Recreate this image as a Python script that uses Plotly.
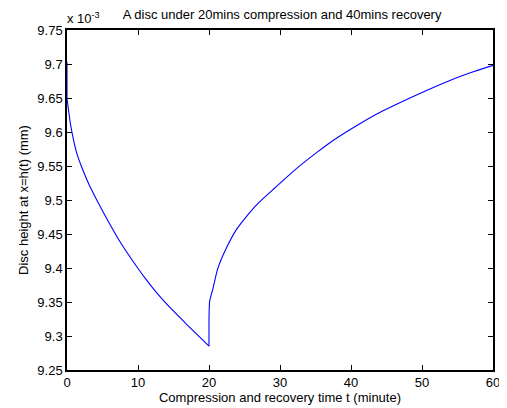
import plotly.graph_objects as go

# Compression phase (time in minutes, height in units of 1e-3 mm)
t_comp = [0, 0, 0.18, 0.5, 0.97, 1.43, 2.12, 3.05, 4.4, 6.0, 7.38, 9.22, 11.08, 12.92,
          14.76, 17.07, 20.0]
h_comp = [9.703, 9.650, 9.635, 9.611, 9.586, 9.567, 9.547, 9.524, 9.496, 9.465, 9.440, 9.411,
          9.384, 9.360, 9.339, 9.315, 9.285]

# Recovery phase
t_rec = [20.0, 20.0, 20.08, 20.3, 20.54, 21.23, 22.38, 23.77, 25.15, 27.0, 29.3, 32.07, 35.2,
         37.84, 41.07, 44.3, 48.92, 53.5, 56.8, 60.0]
h_rec = [9.285, 9.325, 9.350, 9.360, 9.369, 9.399, 9.428, 9.455, 9.474, 9.496, 9.518, 9.544,
         9.570, 9.590, 9.611, 9.630, 9.653, 9.674, 9.687, 9.698]

x_ticks = [0, 10, 20, 30, 40, 50, 60]
y_ticks = [9.25, 9.3, 9.35, 9.4, 9.45, 9.5, 9.55, 9.6, 9.65, 9.7, 9.75]
y_tick_labels = ["9.25", "9.3", "9.35", "9.4", "9.45", "9.5", "9.55", "9.6", "9.65", "9.7", "9.75"]

FONT_FAMILY = "Liberation Sans, Arial, sans-serif"
font = dict(family=FONT_FAMILY, size=13, color="black")
BLUE = "#0000ff"

fig = go.Figure()
# vertical jumps (linear) and smooth curved sections (spline)
for t, h in ((t_comp, h_comp), (t_rec, h_rec)):
    fig.add_trace(go.Scatter(x=t[:2], y=h[:2], mode="lines",
                             line=dict(color=BLUE, width=1.1),
                             showlegend=False, hoverinfo="skip"))
    fig.add_trace(go.Scatter(x=t[1:], y=h[1:], mode="lines",
                             line=dict(color=BLUE, width=1.1, shape="spline", smoothing=0.6),
                             showlegend=False, hoverinfo="skip"))

axis_common = dict(showline=True, linecolor="black", linewidth=1.5, mirror="ticks",
                   ticks="inside", ticklen=5, tickcolor="black", tickwidth=1,
                   showgrid=False, zeroline=False, tickfont=font)

fig.update_layout(
    width=499, height=400,
    margin=dict(l=59, r=7, t=22, b=36),
    paper_bgcolor="white", plot_bgcolor="white",
    font=font,
    title=dict(text="A disc under 20mins compression and 40mins recovery",
               xref="paper", x=0.505, xanchor="center",
               yref="container", y=1 - 6 / 400, yanchor="middle",
               font=font),
    xaxis=dict(range=[0, 60], tickvals=x_ticks,
               title=dict(text="Compression and recovery time t (minute)", font=font, standoff=2),
               **axis_common),
    yaxis=dict(range=[9.25, 9.75], tickvals=y_ticks, ticktext=y_tick_labels,
               title=dict(text="Disc height at x=h(t) (mm)", font=font, standoff=6),
               **axis_common),
)

fig.add_annotation(text="x 10<sup>-3</sup>", xref="paper", yref="paper", x=0, y=1.0,
                   xanchor="left", yanchor="bottom", showarrow=False, yshift=2, xshift=-2,
                   font=font)

fig.write_html("out.html")
